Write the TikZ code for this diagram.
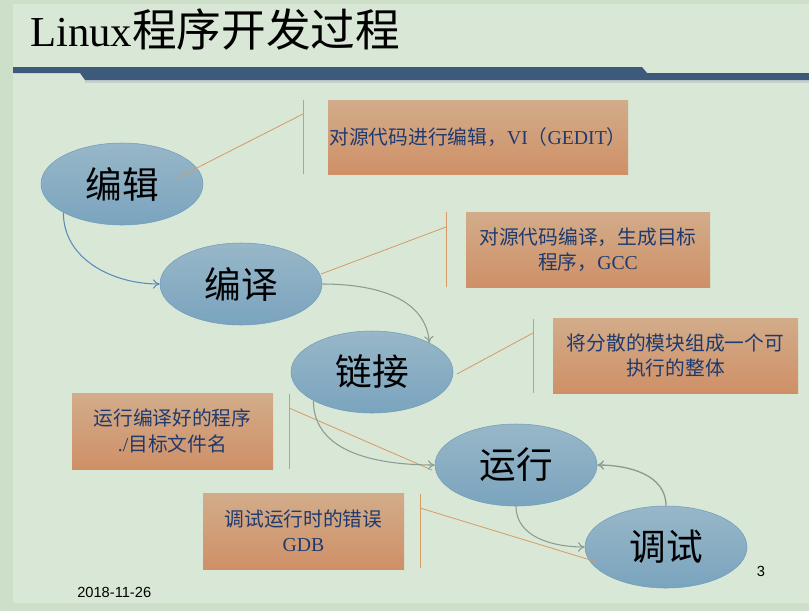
\documentclass[tikz,border=0pt]{standalone}
\usepackage{fontspec}
\setmainfont{Liberation Serif}
\setsansfont{Liberation Sans}
\newfontfamily\cjk{Noto Sans CJK SC}
\usetikzlibrary{shapes.geometric,arrows.meta}

\definecolor{pagegreen}{HTML}{D9E7D6}
\definecolor{rimgreen}{HTML}{CDDFC9}
\definecolor{barblue}{HTML}{3E5A7A}
\definecolor{elltop}{HTML}{98B7C8}
\definecolor{ellbot}{HTML}{7AA4BE}
\definecolor{ellline}{HTML}{6F9DBC}
\definecolor{boxtop}{HTML}{D2AC8A}
\definecolor{boxbot}{HTML}{CF9067}
\definecolor{notetext}{HTML}{1F3A6E}
\definecolor{calline}{HTML}{D69A66}
\definecolor{flowgray}{HTML}{8C9C94}
\definecolor{flowblue}{HTML}{5A8DBA}

\begin{document}
\begin{tikzpicture}[x=0.75pt,y=-0.75pt,
  stepell/.style={ellipse,draw=ellline,top color=elltop,bottom color=ellbot,
    minimum width=121.5pt,minimum height=61.5pt,inner sep=0pt,
    font=\cjk\fontsize{27.5}{30}\selectfont},
  notebox/.style={rectangle,top color=boxtop,bottom color=boxbot,inner sep=0pt,
    align=center,text=notetext,font=\cjk\fontsize{14.8}{19}\selectfont},
  callout/.style={draw=calline,line width=0.6pt},
  flow/.style={draw=flowgray,line width=0.8pt,-{To[length=5pt,width=7pt]}}]
  \useasboundingbox (0,0) rectangle (809,611);
  \fill[rimgreen] (0,0) rectangle (809,611);
  \fill[pagegreen] (13,4) rectangle (809,603);
  % title bar
  \fill[barblue!40,opacity=0.5] (85,80) -- (809,80) -- (809,83) -- (85,83) -- cycle;
  \fill[barblue] (13,67) -- (642,67) -- (647,73) -- (809,73) -- (809,80)
    -- (85,80) -- (80,73) -- (13,73) -- cycle;
  \node[anchor=base west,inner sep=0pt] (title) at (30,46)
    {\fontsize{32}{36}\selectfont Linux{\cjk\fontsize{33.5}{36}\selectfont 程序开发过程}};

  % steps
  \node[stepell] (edit) at (122,184) {编辑};
  \node[stepell] (compile) at (241,284) {编译};
  \node[stepell] (link) at (372,372) {链接};
  \node[stepell] (run) at (516,465) {运行};
  \node[stepell] (debug) at (666,547) {调试};

  % notes
  \node[notebox,minimum width=225pt,minimum height=55.5pt] (editnote) at (478,137)
    {对源代码进行编辑，{\rmfamily VI}（{\rmfamily GEDIT}）};
  \node[notebox,minimum width=183pt,minimum height=56.25pt] (compilenote) at (588,249.5)
    {对源代码编译，生成目标\\程序，{\rmfamily GCC}};
  \node[notebox,minimum width=183.75pt,minimum height=56.25pt] (linknote) at (675.5,355.5)
    {将分散的模块组成一个可\\执行的整体};
  \node[notebox,minimum width=150.75pt,minimum height=57pt] (runnote) at (172.5,431)
    {运行编译好的程序\\{\rmfamily ./}目标文件名};
  \node[notebox,minimum width=150.75pt,minimum height=57pt] (debugnote) at (303.5,531)
    {调试运行时的错误\\{\rmfamily GDB}};

  % callouts
  \coordinate (e1) at (303,100); \coordinate (e2) at (303,174);
  \coordinate (e3) at (303,114); \coordinate (e4) at (179,177);
  \draw[callout] (e1) -- (e2); \draw[callout] (e3) -- (e4);
  \coordinate (c1) at (446,212); \coordinate (c2) at (446,287);
  \coordinate (c3) at (446,227); \coordinate (c4) at (321,274);
  \draw[callout] (c1) -- (c2); \draw[callout] (c3) -- (c4);
  \coordinate (l1) at (533,319); \coordinate (l2) at (533,393);
  \coordinate (l3) at (533,333); \coordinate (l4) at (457,374);
  \draw[callout] (l1) -- (l2); \draw[callout] (l3) -- (l4);
  \coordinate (r1) at (289,394); \coordinate (r2) at (289,469);
  \coordinate (r3) at (289,408); \coordinate (r4) at (432,470);
  \draw[callout] (r1) -- (r2); \draw[callout] (r3) -- (r4);
  \coordinate (d1) at (420,494); \coordinate (d2) at (420,568);
  \coordinate (d3) at (420,508); \coordinate (d4) at (597,562);
  \draw[callout] (d1) -- (d2); \draw[callout] (d3) -- (d4);

  % flow
  \draw[flow,draw=flowblue] (edit.206) to[out=-90,in=180] (compile.west);
  \draw[flow] (compile.east) to[out=0,in=95] (link.27);
  \draw[flow] (link.206) to[out=-90,in=180] (run.west);
  \draw[flow] (run.south) to[out=-90,in=180] (debug.west);
  \draw[flow,line width=1pt] (debug.north) to[out=90,in=0] (run.east);

  % footer
  \node[anchor=west,inner sep=0pt,font=\sffamily\fontsize{11}{13}\selectfont] (date) at (77,592) {2018-11-26};
  \node[inner sep=0pt,font=\sffamily\fontsize{11}{13}\selectfont] (pageno) at (761,571) {3};
\end{tikzpicture}
\end{document}
